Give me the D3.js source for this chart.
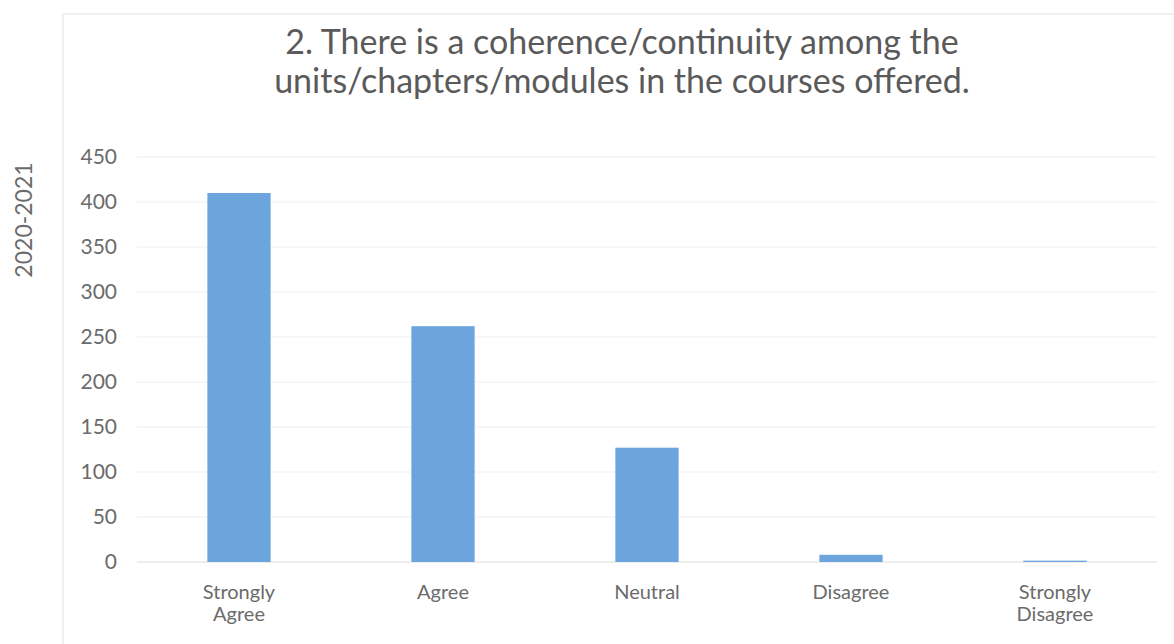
<!DOCTYPE html>
<html>
<head>
<meta charset="utf-8">
<script src="https://cdn.jsdelivr.net/npm/d3@7"></script>
<style>
  body { margin: 0; background: #fff; }
  svg { font-family: Lato, "Open Sans", sans-serif; }
</style>
</head>
<body>
<svg width="1174" height="644"></svg>
<script>
var categories = ["Strongly Agree", "Agree", "Neutral", "Disagree", "Strongly Disagree"];
var responses = [410, 262, 127, 8, 1.5];
var yTicks = [0, 50, 100, 150, 200, 250, 300, 350, 400, 450];
var titleLines = ["2. There is a coherence/continuity among the",
                  "units/chapters/modules in the courses offered."];
var yLabel = "2020-2021";

var svg = d3.select("svg"),
    margin = {top: 157, right: 17, bottom: 82, left: 137},
    width = 1174 - margin.left - margin.right,
    height = 644 - margin.top - margin.bottom,
    g = svg.append("g").attr("transform", "translate(" + margin.left + "," + margin.top + ")");

// faint chart frame
svg.append("path")
    .attr("d", "M63,644 V14 H1174")
    .attr("fill", "none")
    .attr("stroke", "#ececec")
    .attr("stroke-width", 1.5);

var x = d3.scaleBand()
    .domain(categories)
    .range([0, width])
    .paddingInner(0.69)
    .paddingOuter(0.345);

var y = d3.scaleLinear()
    .domain([0, 450])
    .range([height, 0]);

// gridlines
g.append("g")
    .selectAll("line")
    .data(yTicks)
    .enter().append("line")
    .attr("x1", 0)
    .attr("x2", width)
    .attr("y1", function(d) { return y(d); })
    .attr("y2", function(d) { return y(d); })
    .attr("stroke", function(d) { return d === 0 ? "#dcdcdc" : "#eeeeee"; })
    .attr("stroke-width", 1);

// bars
g.append("g")
    .selectAll("rect")
    .data(responses)
    .enter().append("rect")
    .attr("x", function(d, i) { return x(categories[i]); })
    .attr("y", function(d) { return y(d); })
    .attr("width", x.bandwidth())
    .attr("height", function(d) { return height - y(d); })
    .attr("fill", "#6ca4dd");

// y axis
var yAxis = g.append("g")
    .call(d3.axisLeft(y).tickValues(yTicks).tickSize(0).tickPadding(20));
yAxis.select(".domain").remove();
yAxis.selectAll("text")
    .attr("fill", "#6b6b6b")
    .attr("font-size", 21)
    .attr("font-family", "Lato, sans-serif");

// x axis
var xAxis = g.append("g")
    .attr("transform", "translate(0," + height + ")")
    .call(d3.axisBottom(x).tickSize(0).tickPadding(0));
xAxis.select(".domain").remove();
xAxis.selectAll(".tick text").remove();
xAxis.selectAll(".tick").each(function(d) {
    var words = d.split(" ");
    var t = d3.select(this).append("text")
        .attr("fill", "#6b6b6b")
        .attr("font-size", 20)
        .attr("font-family", "Lato, sans-serif")
        .attr("text-anchor", "middle");
    words.forEach(function(w, i) {
        t.append("tspan").attr("x", 0).attr("y", 37 + i * 22).text(w);
    });
});

// title
svg.append("g")
    .selectAll("text")
    .data(titleLines)
    .enter().append("text")
    .attr("x", 622)
    .attr("y", function(d, i) { return 54 + i * 39; })
    .attr("text-anchor", "middle")
    .attr("fill", "#5a5a5a")
    .attr("font-size", 34)
    .text(function(d) { return d; });

// rotated series label
svg.append("text")
    .attr("transform", "translate(32,220) rotate(-90)")
    .attr("text-anchor", "middle")
    .attr("fill", "#6b6b6b")
    .attr("font-size", 23)
    .text(yLabel);
</script>
</body>
</html>
